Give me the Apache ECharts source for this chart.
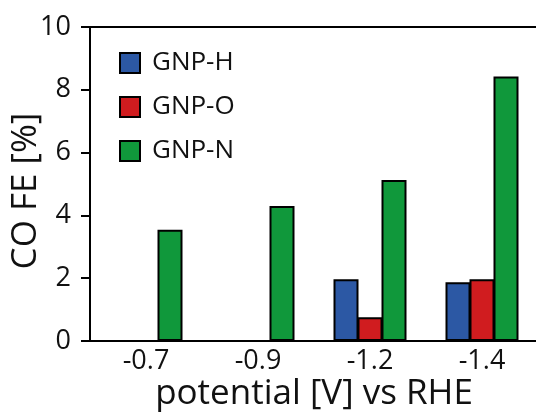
<!DOCTYPE html>
<html>
<head>
<meta charset="utf-8">
<script src="https://cdn.jsdelivr.net/npm/echarts@6/dist/echarts.min.js"></script>
<style>
  html, body { margin: 0; padding: 0; background: #fff; }
  #chart { width: 536px; height: 414px; }
</style>
</head>
<body>
<div id="chart"></div>
<script>
// potentials (V vs RHE)
var categories = ["-0.7", "-0.9", "-1.2", "-1.4"];
var seriesNames = ["GNP-H", "GNP-O", "GNP-N"];
// CO faradaic efficiency [%]
var gnpH = [null, null, 1.97, 1.87];
var gnpO = [null, null, 0.76, 1.97];
var gnpN = [3.54, 4.3, 5.13, 8.42];
var colors = ["#2c58a4", "#d01c1f", "#10983b"];

var font = "Open Sans";
var chart = echarts.init(document.getElementById("chart"));

function barSeries(name, data, color) {
  return {
    name: name,
    type: "bar",
    data: data,
    barWidth: 25,
    barGap: "-4%",
    itemStyle: { color: color, borderColor: "#000", borderWidth: 2 }
  };
}

var option = {
  animation: false,
  grid: { left: 90, top: 27, right: -2, bottom: 73, outerBoundsMode: "none", containLabel: false },
  legend: {
    orient: "vertical",
    left: 119,
    top: 50,
    padding: 0,
    icon: "rect",
    itemWidth: 20,
    itemHeight: 20,
    itemGap: 18,
    data: seriesNames,
    textStyle: { fontFamily: font, fontSize: 26, lineHeight: 26, color: "#111", padding: [0, 0, 0, 7] }
  },
  xAxis: [
    {
      type: "category",
      data: categories,
      name: "potential [V] vs RHE",
      nameLocation: "middle",
      nameGap: 36,
      nameMoveOverlap: false,
      nameTextStyle: { fontFamily: font, fontSize: 35, color: "#111" },
      axisLine: { lineStyle: { color: "#000", width: 2 } },
      axisTick: { length: 9, lineStyle: { color: "#000", width: 2 } },
      axisLabel: { margin: 7, fontFamily: font, fontSize: 27, color: "#111" }
    },
    {
      type: "category",
      data: categories,
      position: "top",
      axisLine: { lineStyle: { color: "#000", width: 2 } },
      axisTick: { show: false },
      axisLabel: { show: false }
    }
  ],
  yAxis: {
    type: "value",
    min: 0,
    max: 10,
    interval: 2,
    name: "CO FE [%]",
    nameLocation: "middle",
    nameGap: 46,
    nameMoveOverlap: false,
    nameTextStyle: { fontFamily: font, fontSize: 35, color: "#111", padding: [0, 14, 0, 0] },
    axisLine: { show: true, lineStyle: { color: "#000", width: 2 } },
    axisTick: { show: true, length: 9, lineStyle: { color: "#000", width: 2 } },
    axisLabel: { margin: 19, fontFamily: font, fontSize: 27, color: "#111" },
    splitLine: { show: false }
  },
  series: [
    barSeries(seriesNames[0], gnpH, colors[0]),
    barSeries(seriesNames[1], gnpO, colors[1]),
    barSeries(seriesNames[2], gnpN, colors[2])
  ]
};

chart.setOption(option);
</script>
</body>
</html>
